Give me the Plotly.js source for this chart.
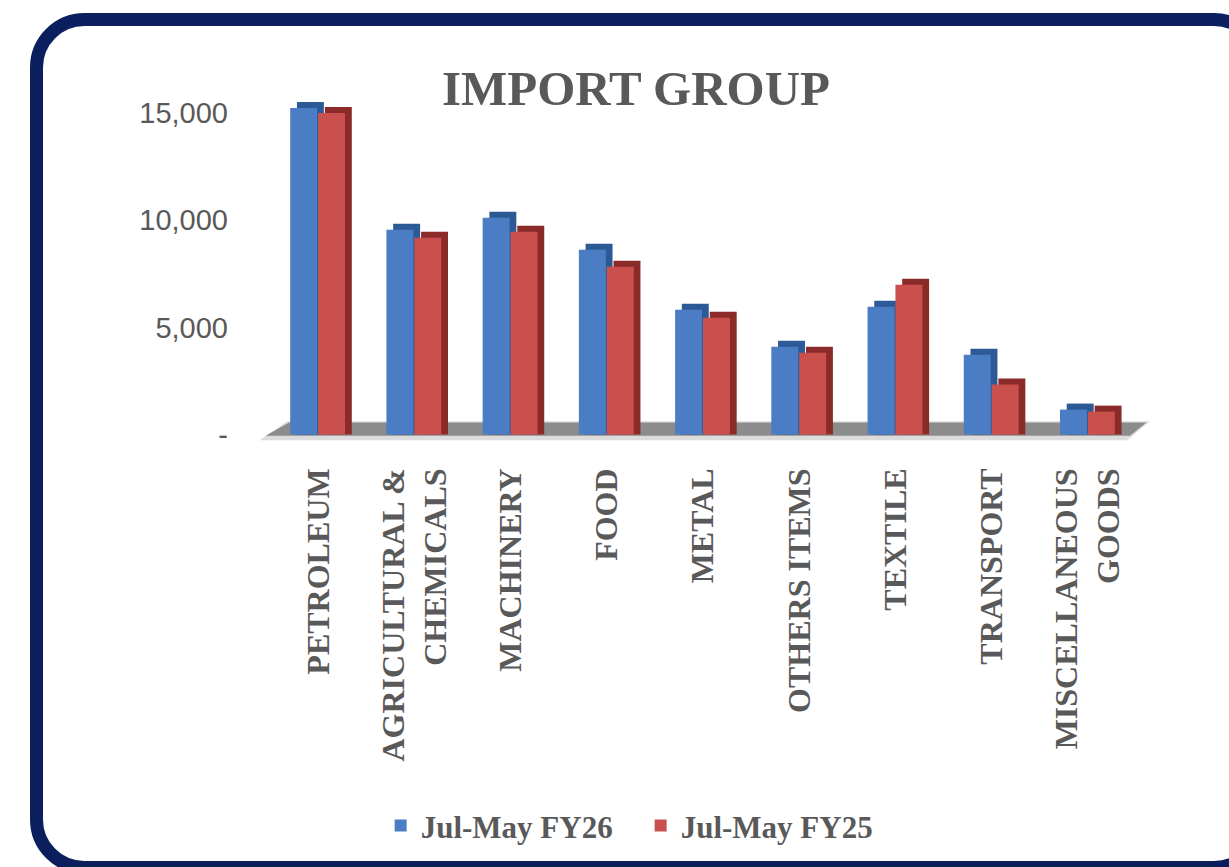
<!DOCTYPE html>
<html>
<head>
<meta charset="utf-8">
<script src="https://cdn.plot.ly/plotly-3.0.1.min.js"></script>
<style>
  html, body { margin:0; padding:0; background:#ffffff; overflow:hidden; }
  #chart { width:1229px; height:867px; }
</style>
</head>
<body>
<div id="chart"></div>
<script>
// ---- data ----
const categories = ["PETROLEUM", "AGRICULTURAL &<br>CHEMICALS", "MACHINERY", "FOOD", "METAL",
                    "OTHERS ITEMS", "TEXTILE", "TRANSPORT", "MISCELLANEOUS<br>GOODS"];
const fy26 = [15230, 9550, 10110, 8615, 5820, 4100, 5960, 3725, 1165];
const fy25 = [15000, 9175, 9455, 7825, 5450, 3820, 6990, 2330, 1070];
const seriesNames = ["Jul-May FY26", "Jul-May FY25"];
const yTickVals = [0, 5000, 10000, 15000];
const yTickText = ["-", "5,000", "10,000", "15,000"];

// ---- style ----
const blue = "#4a7dc4", blueDark = "#2c5a96";
const red = "#c9504c", redDark = "#8a2b2a";
const depthY = 280;   // visual 3D depth in value units
const barW = 0.28, depthX = 0.07;
const gray = "#595959";

const W = 1229, H = 867, M = { l: 270, r: 93, t: 102, b: 426 };
const pw = W - M.l - M.r, ph = H - M.t - M.b;
const px = v => ((v - M.l) / pw).toFixed(5);
const py = v => ((H - M.b - v) / ph).toFixed(5);

// rounded frame path (pixel layout -> paper coords)
function roundedFrame(x0, y0, x1, y1, r) {
  const k = 0.5523 * r;
  const P = (x, y) => px(x) + "," + py(y);
  return "M " + P(x0 + r, y0) + " L " + P(x1 - r, y0) +
    " C " + P(x1 - r + k, y0) + " " + P(x1, y0 + r - k) + " " + P(x1, y0 + r) +
    " L " + P(x1, y1 - r) +
    " C " + P(x1, y1 - r + k) + " " + P(x1 - r + k, y1) + " " + P(x1 - r, y1) +
    " L " + P(x0 + r, y1) +
    " C " + P(x0 + r - k, y1) + " " + P(x0, y1 - r + k) + " " + P(x0, y1 - r) +
    " L " + P(x0, y0 + r) +
    " C " + P(x0, y0 + r - k) + " " + P(x0 + r - k, y0) + " " + P(x0 + r, y0) + " Z";
}

function front(vals, name, color, off) {
  return { type: "bar", x: categories, y: vals, name: name, width: barW, offset: off,
           marker: { color: color, line: { width: 0 } }, hoverinfo: "skip" };
}
function depth(vals, color, off) {
  return { type: "bar", x: categories, y: vals.map(v => v + depthY), width: barW, offset: off + depthX,
           marker: { color: color, line: { width: 0 } }, showlegend: false, hoverinfo: "skip" };
}

const traces = [
  depth(fy26, blueDark, -0.29),
  front(fy26, seriesNames[0], blue, -0.29),
  depth(fy25, redDark, 0.0),
  front(fy25, seriesNames[1], red, 0.0)
];

const layout = {
  width: W, height: H,
  margin: M,
  paper_bgcolor: "#ffffff", plot_bgcolor: "rgba(0,0,0,0)",
  barmode: "overlay",
  showlegend: true,
  title: { text: "IMPORT GROUP", x: 0.5175, xanchor: "center", y: 0.8985, yanchor: "middle",
           xref: "container", yref: "container",
           font: { family: "Liberation Serif", size: 49, color: gray, weight: "bold" } },
  xaxis: { type: "category", tickangle: -90, showgrid: false, zeroline: false, showline: false,
           ticks: "", ticklabelstandoff: 20, range: [-0.5, 8.5],
           tickfont: { family: "Liberation Serif", size: 32, color: gray, weight: "bold" } },
  yaxis: { range: [-300, 15510], tickvals: yTickVals, ticktext: yTickText, showgrid: false,
           zeroline: false, showline: false, ticks: "", ticklabelstandoff: 41,
           tickfont: { family: "Liberation Sans", size: 29, color: gray } },
  legend: { orientation: "h", x: 0.428, xanchor: "center", y: -1.135, yanchor: "middle",
            xref: "paper", yref: "paper", entrywidth: 215, entrywidthmode: "pixels",
            font: { family: "Liberation Serif", size: 31, color: gray, weight: "bold" },
            itemwidth: 30, bgcolor: "rgba(0,0,0,0)" },
  shapes: [
    { type: "path", xref: "paper", yref: "y", layer: "below",
      path: "M -0.012,-260 L 0.02,620 L 1.016,620 L 0.99,-260 Z",
      fillcolor: "#dcdcdc", line: { width: 0 } },
    { type: "path", xref: "paper", yref: "y", layer: "below",
      path: "M -0.005,-60 L 0.022,560 L 1.012,560 L 0.993,-60 Z",
      fillcolor: "#8c8c8c", line: { width: 0 } },
    { type: "path", xref: "paper", yref: "paper", layer: "above",
      path: roundedFrame(36.5, 19.5, 1262, 867.5, 48),
      line: { color: "#0b1f5e", width: 13 }, fillcolor: "rgba(0,0,0,0)" }
  ]
};

Plotly.newPlot("chart", traces, layout, { staticPlot: true, displayModeBar: false });
</script>
</body>
</html>
